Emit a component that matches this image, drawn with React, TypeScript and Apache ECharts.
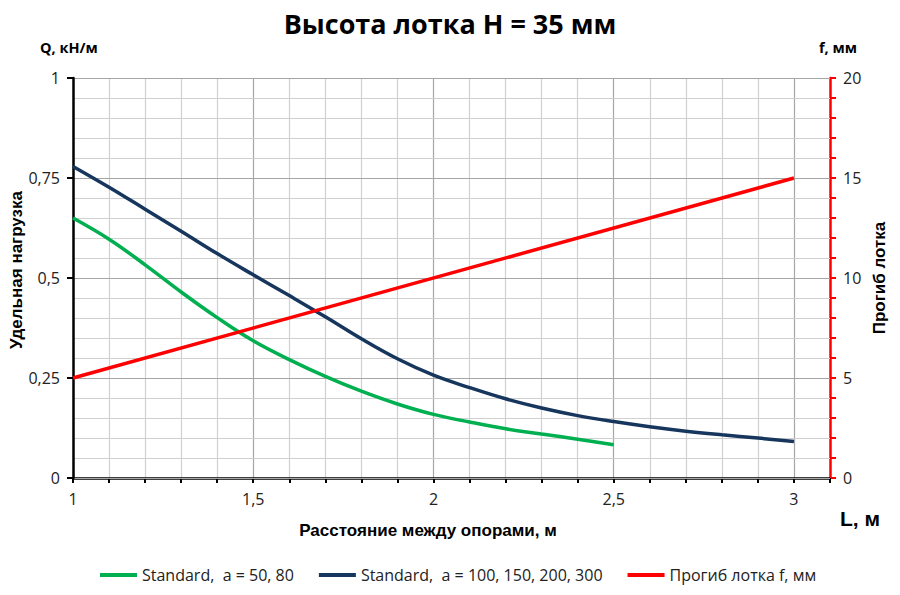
import React, { useEffect, useRef } from "react";
import * as echarts from "echarts";

const titleText = "Высота лотка H = 35 мм";
const seriesNames = [
  "Standard,  a = 50, 80",
  "Standard,  a = 100, 150, 200, 300",
  "Прогиб лотка f, мм",
];
const greenX = [1, 1.1, 1.2, 1.3, 1.4, 1.5, 1.6, 1.7, 1.8, 1.9, 2, 2.1, 2.2, 2.3, 2.4, 2.5];
const greenY = [0.65, 0.597, 0.533, 0.465, 0.401, 0.343, 0.296, 0.254, 0.217, 0.185, 0.159, 0.14, 0.123, 0.11, 0.097, 0.083];
const blueX = [1, 1.1, 1.2, 1.3, 1.4, 1.5, 1.6, 1.7, 1.8, 1.9, 2, 2.1, 2.2, 2.3, 2.4, 2.5, 2.6, 2.7, 2.8, 2.9, 3];
const blueY = [0.779, 0.727, 0.672, 0.617, 0.561, 0.508, 0.456, 0.403, 0.348, 0.298, 0.257, 0.226, 0.198, 0.175, 0.156, 0.141, 0.128, 0.117, 0.108, 0.1, 0.091];
const redX = [1, 3];
const redY = [5, 15];
const xLabelValues = [1, 1.5, 2, 2.5, 3];
const yLabelValues = [0, 0.25, 0.5, 0.75, 1];

const calibriLike = "'Open Sans', 'Noto Sans', sans-serif";
const arialLike = "'Liberation Sans', Arial, sans-serif";

export default function App() {
  const ref = useRef<HTMLDivElement>(null);
  useEffect(() => {
    if (!ref.current) return;
    const chart = echarts.init(ref.current, null, { renderer: "svg" });
    const pair = (xs: number[], ys: number[]) => xs.map((x, i) => [x, ys[i]]);
    const fmtComma = (v: number) => String(+v.toFixed(2)).replace(".", ",");
    const isIn = (list: number[], v: number) => list.some((t) => Math.abs(t - v) < 1e-6);
    const gridColors = ["#a6a6a6", "#d0d0d0", "#d0d0d0", "#d0d0d0", "#d0d0d0"];
    chart.setOption({
      animation: false,
      backgroundColor: "#ffffff",
      grid: { left: 73, right: 70, top: 78, bottom: 117, containLabel: false },
      xAxis: {
        type: "value",
        min: 1,
        max: 3.1,
        interval: 0.1,
        axisLine: { show: true, onZero: false, lineStyle: { color: "#000", width: 2.5 } },
        axisTick: { show: true, inside: false, length: 5, lineStyle: { color: "#000", width: 2 } },
        axisLabel: {
          margin: 13,
          fontFamily: calibriLike,
          fontSize: 16,
          color: "#222",
          formatter: (v: number) => (isIn(xLabelValues, v) ? fmtComma(v) : ""),
        },
        splitLine: { show: true, lineStyle: { color: gridColors, width: 1.2 } },
      },
      yAxis: [
        {
          type: "value",
          min: 0,
          max: 1,
          interval: 0.05,
          position: "left",
          axisLine: { show: true, onZero: false, lineStyle: { color: "#000", width: 2.5 } },
          axisTick: { show: false },
          splitLine: { show: true, lineStyle: { color: gridColors, width: 1.2 } },
          axisLabel: {
            margin: 13,
            fontFamily: calibriLike,
            fontSize: 16,
            color: "#222",
            formatter: (v: number) => (isIn(yLabelValues, v) ? fmtComma(v) : ""),
          },
          z: 2,
        },
        {
          type: "value",
          min: 0,
          max: 20,
          interval: 5,
          position: "right",
          axisLine: { show: true, onZero: false, lineStyle: { color: "#ff0000", width: 2.5 } },
          axisTick: { show: true, length: 6, lineStyle: { color: "#ff0000", width: 2 } },
          minorTick: { show: true, splitNumber: 5, length: 6, lineStyle: { color: "#ff0000", width: 2 } },
          splitLine: { show: false },
          axisLabel: {
            margin: 13,
            fontFamily: calibriLike,
            fontSize: 16,
            color: "#222",
          },
        },
        {
          type: "value",
          min: 0,
          max: 1,
          interval: 0.25,
          position: "left",
          axisLine: { show: false },
          axisTick: { show: true, length: 6, lineStyle: { color: "#000", width: 2 } },
          axisLabel: { show: false },
          splitLine: { show: false },
        },
      ],
      legend: {
        show: true,
        bottom: 12,
        left: 100,
        padding: 0,
        itemWidth: 37,
        itemHeight: 4,
        itemGap: 25,
        icon: "rect",
        textStyle: { fontFamily: calibriLike, fontSize: 16, color: "#222" },
        data: seriesNames,
      },
      series: [
        {
          name: seriesNames[0],
          type: "line",
          smooth: 0.4,
          symbol: "none",
          data: pair(greenX, greenY),
          lineStyle: { color: "#00b050", width: 3.5 },
          itemStyle: { color: "#00b050" },
          z: 3,
        },
        {
          name: seriesNames[1],
          type: "line",
          smooth: 0.4,
          symbol: "none",
          data: pair(blueX, blueY),
          lineStyle: { color: "#17365d", width: 3.5 },
          itemStyle: { color: "#17365d" },
          z: 3,
        },
        {
          name: seriesNames[2],
          type: "line",
          yAxisIndex: 1,
          symbol: "none",
          data: pair(redX, redY),
          lineStyle: { color: "#ff0000", width: 3.5 },
          itemStyle: { color: "#ff0000" },
          z: 4,
        },
      ],
      graphic: [
        {
          type: "text",
          left: "center",
          top: 10,
          style: {
            text: titleText,
            fontFamily: calibriLike,
            fontWeight: "bold",
            fontSize: 27,
            fill: "#000",
          },
        },
        {
          type: "text",
          x: 40,
          y: 47,
          style: {
            text: "Q, кН/м",
            fontFamily: calibriLike,
            fontWeight: "bold",
            fontSize: 14.5,
            fill: "#000",
            verticalAlign: "middle",
          },
        },
        {
          type: "text",
          x: 819,
          y: 47,
          style: {
            text: "f, мм",
            fontFamily: calibriLike,
            fontWeight: "bold",
            fontSize: 14.5,
            fill: "#000",
            verticalAlign: "middle",
          },
        },
        {
          type: "text",
          x: 16,
          y: 270,
          rotation: Math.PI / 2,
          style: {
            text: "Удельная нагрузка",
            fontFamily: arialLike,
            fontWeight: "bold",
            fontSize: 17,
            fill: "#000",
            align: "center",
            verticalAlign: "middle",
          },
        },
        {
          type: "text",
          x: 879,
          y: 278,
          rotation: Math.PI / 2,
          style: {
            text: "Прогиб лотка",
            fontFamily: arialLike,
            fontWeight: "bold",
            fontSize: 17,
            fill: "#000",
            align: "center",
            verticalAlign: "middle",
          },
        },
        {
          type: "text",
          x: 428,
          y: 530,
          style: {
            text: "Расстояние между опорами, м",
            fontFamily: arialLike,
            fontWeight: "bold",
            fontSize: 17,
            fill: "#000",
            align: "center",
            verticalAlign: "middle",
          },
        },
        {
          type: "text",
          x: 860,
          y: 518,
          style: {
            text: "L, м",
            fontFamily: arialLike,
            fontWeight: "bold",
            fontSize: 21,
            fill: "#000",
            align: "center",
            verticalAlign: "middle",
          },
        },
      ],
    });
    return () => chart.dispose();
  }, []);
  return <div ref={ref} style={{ width: 900, height: 595, position: "absolute", left: 0, top: 0 }} />;
}
